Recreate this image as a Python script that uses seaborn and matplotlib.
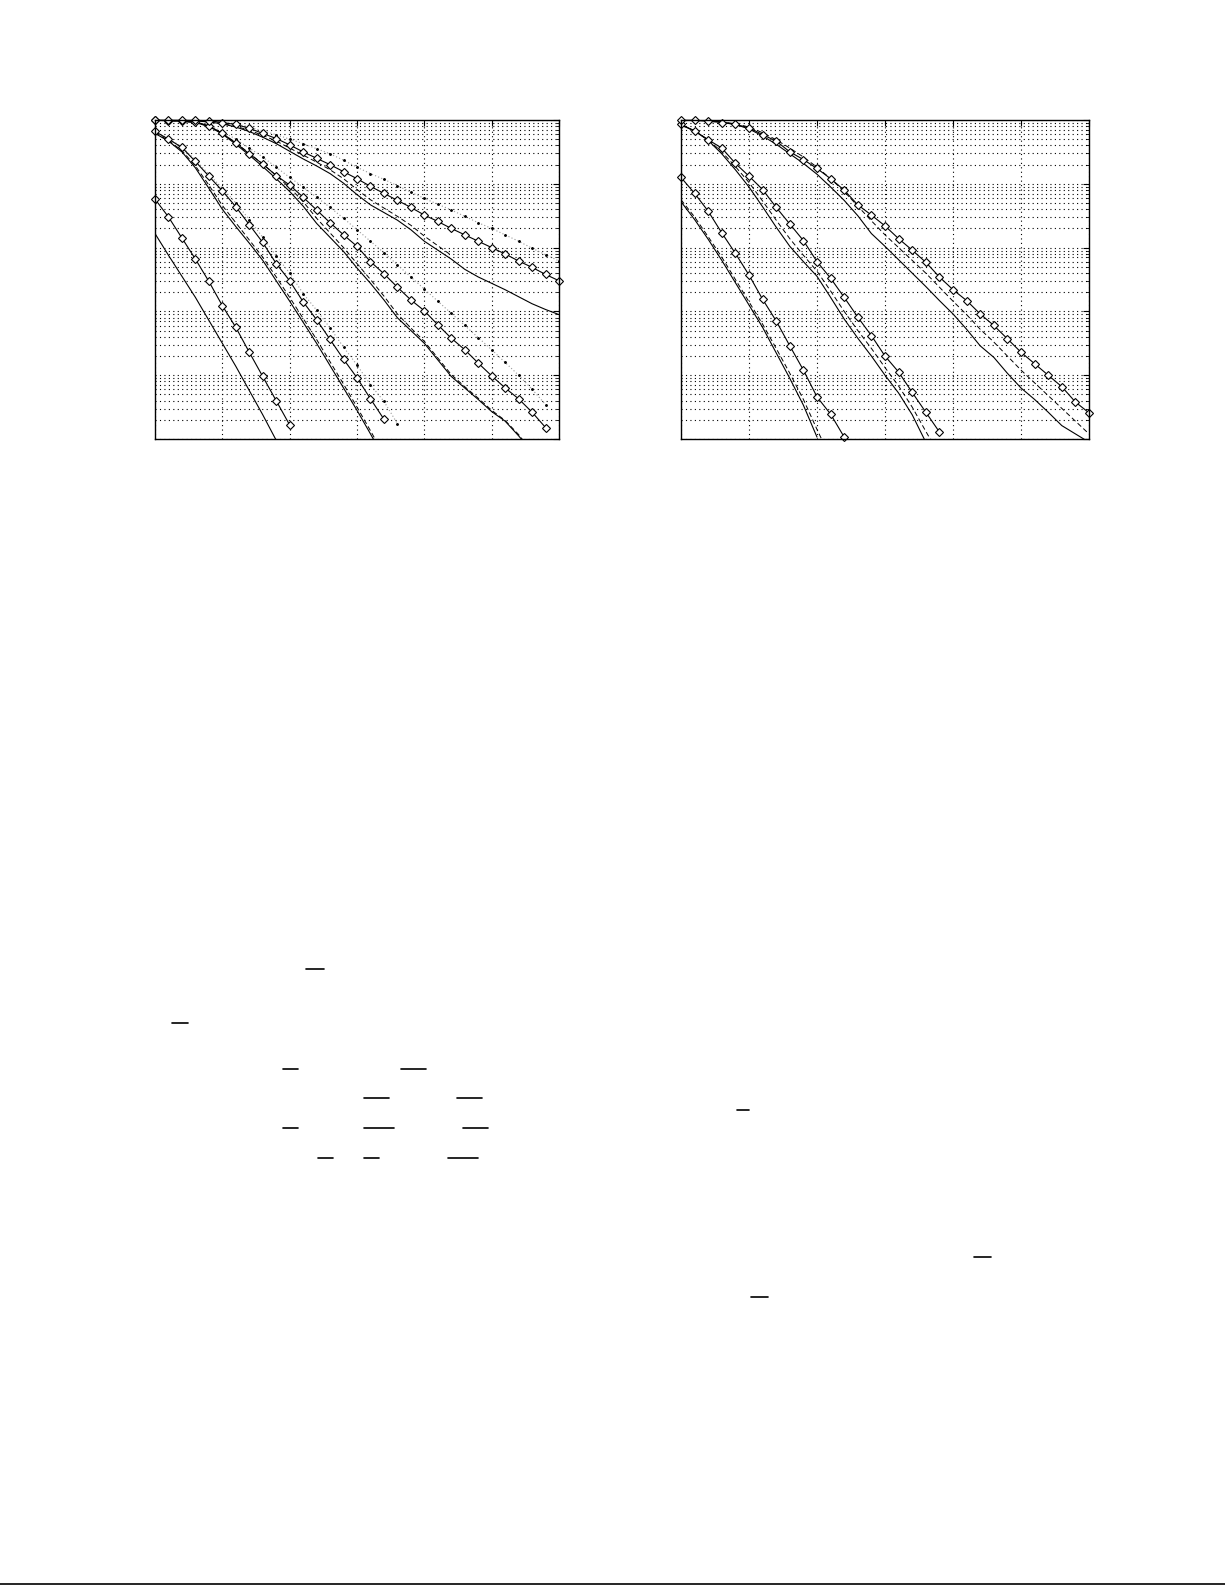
import numpy as np
import pandas as pd
import matplotlib
matplotlib.use("Agg")
import matplotlib.pyplot as plt
import seaborn as sns
from matplotlib.lines import Line2D

# ---------------------------------------------------------------
# Datos (exponentes log10 de la probabilidad)
# eje x: 0..30 con paso 1
# ---------------------------------------------------------------
# Panel izquierdo
izq_a_rombos = [-1.24, -1.52, -1.85, -2.18, -2.53, -2.91, -3.25, -3.64, -4.02, -4.40, -4.78]
izq_a_solida = [-1.78, -2.12, -2.45, -2.78, -3.14, -3.50, -3.86, -4.24, -4.62, -5.02]

izq_b_rombos = [-0.18, -0.30, -0.43, -0.65, -0.88, -1.11, -1.36, -1.64, -1.92, -2.25, -2.52,
                -2.85, -3.13, -3.44, -3.75, -4.04, -4.37, -4.69]
izq_b_puntos = [-0.18, -0.29, -0.42, -0.63, -0.85, -1.07, -1.30, -1.56, -1.84, -2.13, -2.40,
                -2.72, -2.98, -3.26, -3.56, -3.84, -4.15, -4.41, -4.76]
izq_b_solida = [-0.21, -0.33, -0.50, -0.75, -1.07, -1.40, -1.67, -1.93, -2.20, -2.52, -2.84,
                -3.17, -3.50, -3.85, -4.20, -4.55, -4.92, -5.30]
izq_b_discontinua = [-0.20, -0.32, -0.48, -0.72, -1.02, -1.34, -1.61, -1.88, -2.15, -2.46, -2.78,
                     -3.11, -3.44, -3.79, -4.14, -4.50, -4.87, -5.25]

izq_c_rombos = [-0.005, -0.01, -0.015, -0.03, -0.09, -0.21, -0.36, -0.53, -0.69, -0.87, -1.02,
                -1.21, -1.41, -1.61, -1.80, -1.98, -2.22, -2.41, -2.62, -2.82, -2.99, -3.21,
                -3.42, -3.60, -3.81, -4.01, -4.20, -4.37, -4.58, -4.82]
izq_c_puntos = [-0.005, -0.01, -0.015, -0.03, -0.08, -0.18, -0.30, -0.44, -0.58, -0.74, -0.90,
                -1.05, -1.21, -1.37, -1.54, -1.72, -1.90, -2.08, -2.27, -2.46, -2.65, -2.84,
                -3.03, -3.22, -3.41, -3.60, -3.80, -4.00, -4.22, -4.46]
izq_c_solida = [-0.005, -0.01, -0.02, -0.04, -0.10, -0.22, -0.38, -0.55, -0.73, -0.92, -1.12,
                -1.35, -1.62, -1.84, -2.06, -2.32, -2.56, -2.82, -3.10, -3.30, -3.50, -3.76,
                -4.02, -4.20, -4.38, -4.57, -4.72, -4.95, -5.20]
izq_c_discontinua = [-0.005, -0.01, -0.02, -0.04, -0.10, -0.21, -0.36, -0.52, -0.69, -0.87, -1.06,
                     -1.28, -1.54, -1.77, -2.00, -2.25, -2.50, -2.76, -3.04, -3.26, -3.47, -3.73,
                     -3.99, -4.18, -4.36, -4.55, -4.71, -4.93, -5.20]

izq_d_rombos = [-0.003, -0.003, -0.005, -0.007, -0.01, -0.04, -0.07, -0.13, -0.21, -0.29, -0.39,
                -0.50, -0.60, -0.70, -0.81, -0.92, -1.04, -1.15, -1.26, -1.37, -1.49, -1.59,
                -1.70, -1.80, -1.90, -2.00, -2.10, -2.21, -2.31, -2.42, -2.52]
izq_d_puntos = [-0.003, -0.003, -0.005, -0.007, -0.01, -0.03, -0.06, -0.11, -0.17, -0.23, -0.30,
                -0.37, -0.45, -0.53, -0.63, -0.74, -0.84, -0.93, -1.03, -1.13, -1.23, -1.32,
                -1.41, -1.51, -1.61, -1.70, -1.80, -1.90, -2.01, -2.11, -2.21]
izq_d_solida = [-0.003, -0.004, -0.008, -0.015, -0.03, -0.06, -0.11, -0.18, -0.27, -0.37, -0.49,
                -0.61, -0.72, -0.84, -0.99, -1.17, -1.33, -1.45, -1.57, -1.72, -1.90, -2.04,
                -2.18, -2.34, -2.46, -2.56, -2.66, -2.77, -2.88, -2.97, -3.05]
izq_d_discontinua = [-0.003, -0.004, -0.008, -0.014, -0.028, -0.055, -0.10, -0.16, -0.24, -0.33,
                     -0.44, -0.55, -0.66, -0.78, -0.92, -1.09, -1.25, -1.38, -1.51, -1.65, -1.82,
                     -1.97, -2.12]

# Panel derecho
der_a_rombos = [-0.90, -1.15, -1.43, -1.77, -2.09, -2.43, -2.81, -3.15, -3.54, -3.92, -4.34,
                -4.61, -4.97]
der_a_solida = [-1.28, -1.56, -1.87, -2.20, -2.55, -2.90, -3.25, -3.65, -4.05, -4.47, -4.97]
der_a_discontinua = [-1.25, -1.52, -1.83, -2.15, -2.50, -2.85, -3.20, -3.58, -3.97, -4.38,
                     -4.85, -5.30]

der_b_rombos = [-0.07, -0.17, -0.31, -0.44, -0.68, -0.88, -1.09, -1.37, -1.63, -1.89, -2.22,
                -2.48, -2.78, -3.09, -3.38, -3.70, -3.95, -4.27, -4.58, -4.89]
der_b_solida = [-0.08, -0.17, -0.32, -0.53, -0.78, -1.05, -1.36, -1.68, -1.98, -2.22, -2.45,
                -2.78, -3.12, -3.42, -3.70, -4.00, -4.28, -4.62, -5.05]
der_b_discontinua = [-0.08, -0.17, -0.31, -0.50, -0.73, -0.98, -1.27, -1.57, -1.86, -2.12,
                     -2.37, -2.68, -3.00, -3.30, -3.58, -3.88, -4.17, -4.50, -4.88, -5.25]

der_c_rombos = [-0.003, -0.005, -0.02, -0.04, -0.07, -0.12, -0.23, -0.33, -0.50, -0.62, -0.76,
                -0.92, -1.10, -1.33, -1.49, -1.66, -1.86, -2.04, -2.23, -2.46, -2.66, -2.83,
                -3.04, -3.22, -3.43, -3.64, -3.82, -4.00, -4.18, -4.42, -4.59]
der_c_solida = [-0.003, -0.005, -0.01, -0.03, -0.07, -0.14, -0.25, -0.38, -0.53, -0.68, -0.85,
                -1.05, -1.26, -1.50, -1.78, -1.98, -2.19, -2.40, -2.61, -2.83, -3.04, -3.28,
                -3.54, -3.72, -3.97, -4.20, -4.38, -4.58, -4.79, -4.92, -5.05]
der_c_discontinua = [-0.003, -0.005, -0.01, -0.03, -0.06, -0.11, -0.20, -0.31, -0.44, -0.58,
                     -0.74, -0.92, -1.12, -1.35, -1.58, -1.80, -2.00, -2.20, -2.40, -2.62,
                     -2.84, -3.05, -3.28, -3.48, -3.70, -3.92, -4.12, -4.32, -4.52, -4.72, -4.92]

# Restos de texto de la pagina (barras de fraccion), en pixeles: (x0, x1, y)
barras_pagina = [(306, 324, 969), (172, 188, 1023), (283, 298, 1069), (401, 426, 1069),
                 (364, 389, 1098), (457, 482, 1098), (283, 298, 1128), (364, 394, 1128),
                 (463, 488, 1128), (318, 333, 1158), (364, 379, 1158), (448, 478, 1158),
                 (737, 749, 1110), (974, 991, 1257), (751, 768, 1297), (0, 1225, 1584)]

ANCHO, ALTO = 1225, 1585

# estilos tipo MATLAB
estilo = {
    'rombos': dict(color='k', linewidth=0.8, marker='D', markersize=4.4,
                   markerfacecolor='white', markeredgecolor='k', markeredgewidth=0.8,
                   clip_on=False, zorder=5),
    'solida': dict(color='k', linewidth=0.8, linestyle='-', zorder=4),
    'discontinua': dict(color='k', linewidth=0.7, linestyle=(0, (5, 3)), zorder=3),
    'puntos': dict(color='0.6', linewidth=0.8, linestyle=(0, (1, 2)), marker='.',
                   markersize=2.6, markerfacecolor='k', markeredgecolor='k', zorder=3),
}
rejilla = dict(linestyle=(0, (1, 3)), color='k', linewidth=0.8)

panel_izq = [
    (izq_a_rombos, 'rombos'), (izq_a_solida, 'solida'),
    (izq_b_rombos, 'rombos'), (izq_b_puntos, 'puntos'), (izq_b_solida, 'solida'),
    (izq_b_discontinua, 'discontinua'),
    (izq_c_rombos, 'rombos'), (izq_c_puntos, 'puntos'), (izq_c_solida, 'solida'),
    (izq_c_discontinua, 'discontinua'),
    (izq_d_rombos, 'rombos'), (izq_d_puntos, 'puntos'), (izq_d_solida, 'solida'),
    (izq_d_discontinua, 'discontinua'),
]
panel_der = [
    (der_a_rombos, 'rombos'), (der_a_solida, 'solida'), (der_a_discontinua, 'discontinua'),
    (der_b_rombos, 'rombos'), (der_b_solida, 'solida'), (der_b_discontinua, 'discontinua'),
    (der_c_rombos, 'rombos'), (der_c_solida, 'solida'), (der_c_discontinua, 'discontinua'),
]

sns.set_style('white')
fig = plt.figure(figsize=(ANCHO / 100, ALTO / 100), dpi=100)


def dibujar_panel(ax, curvas):
    for exponentes, tipo in curvas:
        df = pd.DataFrame({'snr': np.arange(len(exponentes)),
                           'p': 10.0 ** np.array(exponentes)})
        sns.lineplot(data=df, x='snr', y='p', ax=ax, sort=False, estimator=None,
                     legend=False, **estilo[tipo])
    ax.set_yscale('log')
    ax.set_xlim(0, 30)
    ax.set_ylim(1e-5, 1)
    ax.set_xticks(np.arange(0, 31, 5))
    ax.xaxis.grid(True, which='major', **rejilla)
    ax.yaxis.grid(True, which='both', **rejilla)
    ax.tick_params(which='both', direction='in', top=True, right=True,
                   labelbottom=False, labelleft=False, color='k')
    ax.tick_params(which='major', length=4, width=0.8)
    ax.tick_params(which='minor', length=2, width=0.6)
    ax.set_xlabel('')
    ax.set_ylabel('')
    for s in ax.spines.values():
        s.set_color('k')
        s.set_linewidth(1.0)
        s.set_zorder(6)
    ax.set_axisbelow(True)


ax1 = fig.add_axes([155 / ANCHO, 1 - 439 / ALTO, 404 / ANCHO, 319 / ALTO])
ax2 = fig.add_axes([681 / ANCHO, 1 - 439 / ALTO, 408 / ANCHO, 319 / ALTO])
dibujar_panel(ax1, panel_izq)
dibujar_panel(ax2, panel_der)

# barras sueltas del texto de la pagina
for x0, x1, y in barras_pagina:
    fig.add_artist(Line2D([x0 / ANCHO, x1 / ANCHO], [1 - y / ALTO, 1 - y / ALTO],
                          transform=fig.transFigure, color='k', linewidth=1.2))

fig.savefig('out.png', dpi=100, facecolor='white')
